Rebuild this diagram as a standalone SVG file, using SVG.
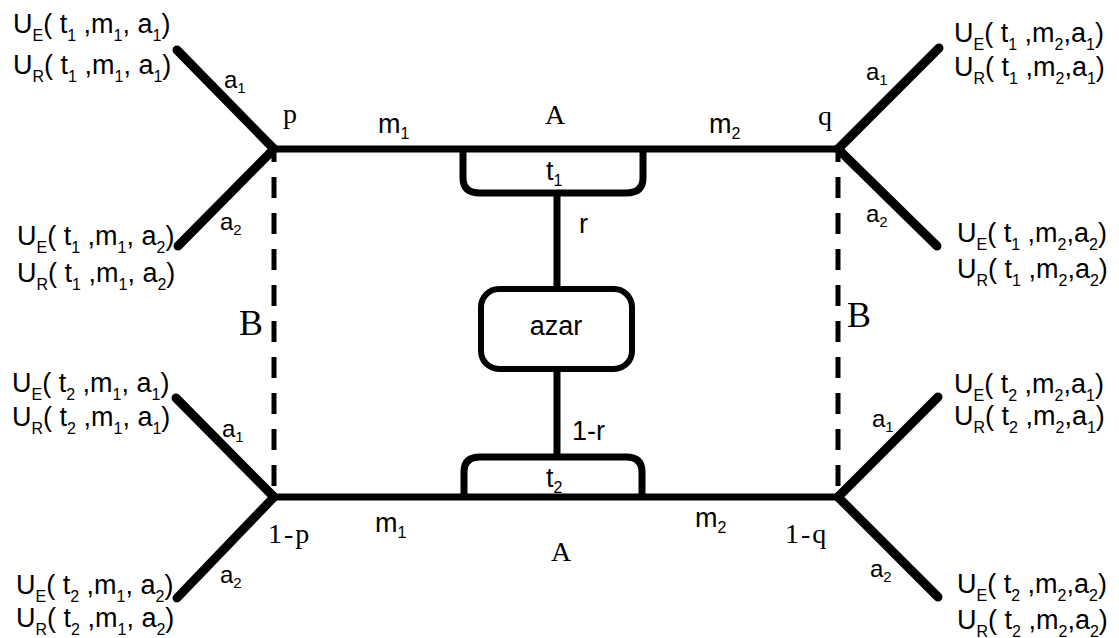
<svg xmlns="http://www.w3.org/2000/svg" width="1119" height="638" viewBox="0 0 1119 638">
<style>
.bg{fill:#fff}
.br{stroke:#000;stroke-width:9;stroke-linecap:round;fill:none}
.ln{stroke:#000;stroke-width:7;fill:none}
.dash{stroke:#000;stroke-width:5;stroke-dasharray:21 15;stroke-dashoffset:8;fill:none}
.box{stroke:#000;stroke-width:6;fill:none}
.u{font-family:"Liberation Sans",Arial,sans-serif;font-size:27px;fill:#000}
.s{font-size:16px}
.lab{font-family:"Liberation Sans",Arial,sans-serif;font-size:27px;fill:#000}
.sm{font-family:"Liberation Sans",Arial,sans-serif;font-size:24px;fill:#000}
.ss{font-size:15px}
.sf{font-family:"Liberation Serif","Times New Roman",serif;font-size:28px;fill:#000}
.big{font-family:"Liberation Serif","Times New Roman",serif;font-size:36px;fill:#000}
</style>
<rect class="bg" x="0" y="0" width="1119" height="638"/>
<g id="connectors">
  <line class="br" x1="177" y1="50" x2="274" y2="149"/>
  <line class="br" x1="178" y1="246" x2="274" y2="149"/>
  <line class="br" x1="939" y1="48" x2="838" y2="149"/>
  <line class="br" x1="937" y1="246" x2="838" y2="149"/>
  <line class="br" x1="176" y1="398" x2="274" y2="497"/>
  <line class="br" x1="177" y1="598" x2="274" y2="497"/>
  <line class="br" x1="938" y1="397" x2="838" y2="497"/>
  <line class="br" x1="938" y1="597" x2="838" y2="497"/>
  <line class="ln" x1="272" y1="149" x2="840" y2="149"/>
  <line class="ln" x1="272" y1="497" x2="840" y2="497"/>
  <line class="dash" x1="274" y1="149" x2="274" y2="497"/>
  <line class="dash" x1="838" y1="149" x2="838" y2="497"/>
  <line class="ln" x1="557" y1="193" x2="557" y2="289"/>
  <line class="ln" x1="557" y1="369" x2="557" y2="457"/>
</g>
<g id="node-t1">
  <path class="ln" d="M463,149 V178 Q463,193 480,193 H626 Q643,193 643,178 V149"/>
  <text class="lab" x="546" y="180">t<tspan class="s" dy="6">1</tspan></text>
</g>
<g id="node-azar">
  <rect class="box" x="481" y="289" width="151" height="80" rx="18"/>
  <text class="lab" x="556" y="335" text-anchor="middle" font-size="28">azar</text>
</g>
<g id="node-t2">
  <path class="ln" d="M464,497 V472 Q464,457 480,457 H626 Q642,457 642,472 V497"/>
  <text class="lab" x="546" y="487">t<tspan class="s" dy="6">2</tspan></text>
</g>
<g id="edge-labels">
  <text class="lab" x="579" y="233">r</text>
  <text class="lab" x="572" y="440" font-size="28">1-r</text>
  <text class="lab" x="378" y="133">m<tspan class="s" dy="6">1</tspan></text>
  <text class="lab" x="709" y="133">m<tspan class="s" dy="6">2</tspan></text>
  <text class="lab" x="375" y="532">m<tspan class="s" dy="6">1</tspan></text>
  <text class="lab" x="695" y="527">m<tspan class="s" dy="6">2</tspan></text>
  <text class="sf" x="555" y="124" text-anchor="middle">A</text>
  <text class="sf" x="561" y="561" text-anchor="middle">A</text>
  <text class="big" x="239" y="335">B</text>
  <text class="big" x="847" y="327">B</text>
  <text class="sm" x="224" y="88">a<tspan class="ss" dy="5">1</tspan></text>
  <text class="sm" x="220" y="230">a<tspan class="ss" dy="5">2</tspan></text>
  <text class="sm" x="866" y="80">a<tspan class="ss" dy="5">1</tspan></text>
  <text class="sm" x="866" y="222">a<tspan class="ss" dy="5">2</tspan></text>
  <text class="sm" x="222" y="437">a<tspan class="ss" dy="5">1</tspan></text>
  <text class="sm" x="220" y="583">a<tspan class="ss" dy="5">2</tspan></text>
  <text class="sm" x="872" y="427">a<tspan class="ss" dy="5">1</tspan></text>
  <text class="sm" x="870" y="577">a<tspan class="ss" dy="5">2</tspan></text>
</g>
<g id="node-p">
  <text class="sf" x="283" y="123">p</text>
</g>
<g id="node-q">
  <text class="sf" x="818" y="125">q</text>
</g>
<g id="node-1-p">
  <text class="sf" x="268" y="543" font-size="32" letter-spacing="2">1-p</text>
</g>
<g id="node-1-q">
  <text class="sf" x="785" y="543" font-size="32" letter-spacing="2">1-q</text>
</g>
<g id="payoff-t1m1a1">
  <text class="u" x="13" y="33">U<tspan class="s" dy="8">E</tspan><tspan dy="-8">( t</tspan><tspan class="s" dy="8">1</tspan><tspan dy="-8"> ,m</tspan><tspan class="s" dy="8">1</tspan><tspan dy="-8">, a</tspan><tspan class="s" dy="8">1</tspan><tspan dy="-8">)</tspan></text>
  <text class="u" x="13" y="74">U<tspan class="s" dy="8">R</tspan><tspan dy="-8">( t</tspan><tspan class="s" dy="8">1</tspan><tspan dy="-8"> ,m</tspan><tspan class="s" dy="8">1</tspan><tspan dy="-8">, a</tspan><tspan class="s" dy="8">1</tspan><tspan dy="-8">)</tspan></text>
</g>
<g id="payoff-t1m1a2">
  <text class="u" x="17" y="245">U<tspan class="s" dy="8">E</tspan><tspan dy="-8">( t</tspan><tspan class="s" dy="8">1</tspan><tspan dy="-8"> ,m</tspan><tspan class="s" dy="8">1</tspan><tspan dy="-8">, a</tspan><tspan class="s" dy="8">2</tspan><tspan dy="-8">)</tspan></text>
  <text class="u" x="17" y="282">U<tspan class="s" dy="8">R</tspan><tspan dy="-8">( t</tspan><tspan class="s" dy="8">1</tspan><tspan dy="-8"> ,m</tspan><tspan class="s" dy="8">1</tspan><tspan dy="-8">, a</tspan><tspan class="s" dy="8">2</tspan><tspan dy="-8">)</tspan></text>
</g>
<g id="payoff-t2m1a1">
  <text class="u" x="12" y="392">U<tspan class="s" dy="8">E</tspan><tspan dy="-8">( t</tspan><tspan class="s" dy="8">2</tspan><tspan dy="-8"> ,m</tspan><tspan class="s" dy="8">1</tspan><tspan dy="-8">, a</tspan><tspan class="s" dy="8">1</tspan><tspan dy="-8">)</tspan></text>
  <text class="u" x="12" y="426">U<tspan class="s" dy="8">R</tspan><tspan dy="-8">( t</tspan><tspan class="s" dy="8">2</tspan><tspan dy="-8"> ,m</tspan><tspan class="s" dy="8">1</tspan><tspan dy="-8">, a</tspan><tspan class="s" dy="8">1</tspan><tspan dy="-8">)</tspan></text>
</g>
<g id="payoff-t2m1a2">
  <text class="u" x="16" y="594">U<tspan class="s" dy="8">E</tspan><tspan dy="-8">( t</tspan><tspan class="s" dy="8">2</tspan><tspan dy="-8"> ,m</tspan><tspan class="s" dy="8">1</tspan><tspan dy="-8">, a</tspan><tspan class="s" dy="8">2</tspan><tspan dy="-8">)</tspan></text>
  <text class="u" x="16" y="627">U<tspan class="s" dy="8">R</tspan><tspan dy="-8">( t</tspan><tspan class="s" dy="8">2</tspan><tspan dy="-8"> ,m</tspan><tspan class="s" dy="8">1</tspan><tspan dy="-8">, a</tspan><tspan class="s" dy="8">2</tspan><tspan dy="-8">)</tspan></text>
</g>
<g id="payoff-t1m2a1">
  <text class="u" x="954" y="42">U<tspan class="s" dy="8">E</tspan><tspan dy="-8">( t</tspan><tspan class="s" dy="8">1</tspan><tspan dy="-8"> ,m</tspan><tspan class="s" dy="8">2</tspan><tspan dy="-8">,a</tspan><tspan class="s" dy="8">1</tspan><tspan dy="-8">)</tspan></text>
  <text class="u" x="954" y="76">U<tspan class="s" dy="8">R</tspan><tspan dy="-8">( t</tspan><tspan class="s" dy="8">1</tspan><tspan dy="-8"> ,m</tspan><tspan class="s" dy="8">2</tspan><tspan dy="-8">,a</tspan><tspan class="s" dy="8">1</tspan><tspan dy="-8">)</tspan></text>
</g>
<g id="payoff-t1m2a2">
  <text class="u" x="957" y="242">U<tspan class="s" dy="8">E</tspan><tspan dy="-8">( t</tspan><tspan class="s" dy="8">1</tspan><tspan dy="-8"> ,m</tspan><tspan class="s" dy="8">2</tspan><tspan dy="-8">,a</tspan><tspan class="s" dy="8">2</tspan><tspan dy="-8">)</tspan></text>
  <text class="u" x="957" y="278">U<tspan class="s" dy="8">R</tspan><tspan dy="-8">( t</tspan><tspan class="s" dy="8">1</tspan><tspan dy="-8"> ,m</tspan><tspan class="s" dy="8">2</tspan><tspan dy="-8">,a</tspan><tspan class="s" dy="8">2</tspan><tspan dy="-8">)</tspan></text>
</g>
<g id="payoff-t2m2a1">
  <text class="u" x="954" y="393">U<tspan class="s" dy="8">E</tspan><tspan dy="-8">( t</tspan><tspan class="s" dy="8">2</tspan><tspan dy="-8"> ,m</tspan><tspan class="s" dy="8">2</tspan><tspan dy="-8">,a</tspan><tspan class="s" dy="8">1</tspan><tspan dy="-8">)</tspan></text>
  <text class="u" x="954" y="425">U<tspan class="s" dy="8">R</tspan><tspan dy="-8">( t</tspan><tspan class="s" dy="8">2</tspan><tspan dy="-8"> ,m</tspan><tspan class="s" dy="8">2</tspan><tspan dy="-8">,a</tspan><tspan class="s" dy="8">1</tspan><tspan dy="-8">)</tspan></text>
</g>
<g id="payoff-t2m2a2">
  <text class="u" x="957" y="593">U<tspan class="s" dy="8">E</tspan><tspan dy="-8">( t</tspan><tspan class="s" dy="8">2</tspan><tspan dy="-8"> ,m</tspan><tspan class="s" dy="8">2</tspan><tspan dy="-8">,a</tspan><tspan class="s" dy="8">2</tspan><tspan dy="-8">)</tspan></text>
  <text class="u" x="957" y="629">U<tspan class="s" dy="8">R</tspan><tspan dy="-8">( t</tspan><tspan class="s" dy="8">2</tspan><tspan dy="-8"> ,m</tspan><tspan class="s" dy="8">2</tspan><tspan dy="-8">,a</tspan><tspan class="s" dy="8">2</tspan><tspan dy="-8">)</tspan></text>
</g>
</svg>
